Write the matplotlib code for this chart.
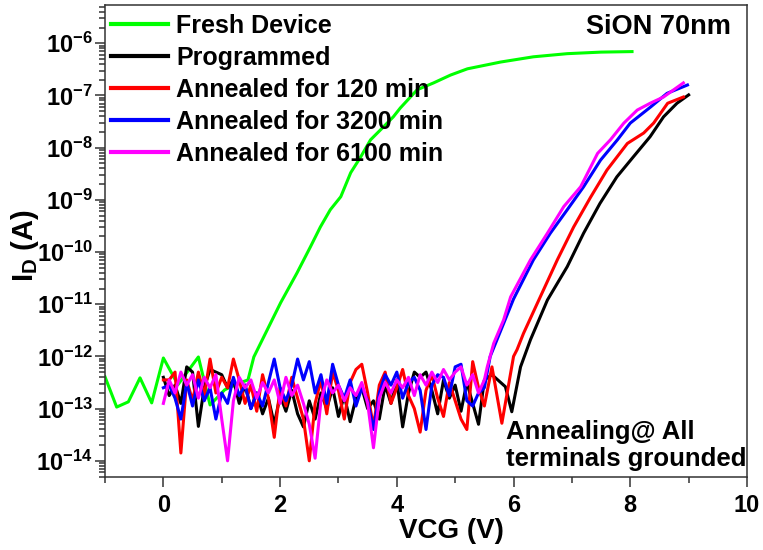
"""
Transfer curves I_D vs VCG for the SiON 70nm device: fresh, programmed, and annealed.
Values read off the published figure (log10 of current in A).
"""
import matplotlib
matplotlib.use("Agg")
import matplotlib.pyplot as plt
import numpy as np
from matplotlib.ticker import MultipleLocator, LogLocator, FixedLocator, FixedFormatter, NullFormatter

plt.rcParams["font.family"] = ["Liberation Sans", "DejaVu Sans"]
plt.rcParams["font.weight"] = "bold"
plt.rcParams["mathtext.fontset"] = "custom"
plt.rcParams["mathtext.rm"] = "Liberation Sans:bold"
plt.rcParams["mathtext.it"] = "Liberation Sans:bold"
plt.rcParams["mathtext.bf"] = "Liberation Sans:bold"

# fresh device
fresh_v = [-1.0, -0.8, -0.6, -0.4, -0.2, 0.0, 0.25, 0.6, 0.8, 1.05, 1.3, 1.45,
           1.55, 1.78, 2.01, 2.29, 2.52, 2.69, 2.86, 3.04, 3.21, 3.38, 3.55, 3.72,
           3.94, 4.06, 4.35, 4.63, 4.92, 5.21, 5.78, 6.34, 6.92, 7.5, 8.03]
fresh_log = [-12.39, -12.97, -12.87, -12.41, -12.89, -12.03, -12.54, -12.01, -12.93, -12.64, -12.51, -12.45,
             -12.01, -11.49, -10.97, -10.40, -9.90, -9.52, -9.19, -8.94, -8.48, -8.18, -7.85, -7.66,
             -7.41, -7.24, -6.89, -6.76, -6.61, -6.49, -6.36, -6.26, -6.20, -6.17, -6.16]

# common low-voltage sweep points (noise floor region)
sweep_v = [0.0, 0.1, 0.2, 0.3, 0.4, 0.5, 0.6, 0.7, 0.8, 0.9,
           1.0, 1.1, 1.2, 1.3, 1.4, 1.5, 1.6, 1.7, 1.8, 1.9,
           2.0, 2.1, 2.2, 2.3, 2.4, 2.5, 2.6, 2.7, 2.8, 2.9,
           3.0, 3.1, 3.2, 3.3, 3.4, 3.5, 3.6, 3.7, 3.8, 3.9,
           4.0, 4.1, 4.2, 4.3, 4.4, 4.5, 4.6, 4.7, 4.8, 4.9,
           5.0, 5.1, 5.2, 5.3, 5.4, 5.5]

prog_floor = [-12.40, -12.75, -12.55, -12.90, -12.20, -12.30, -13.34, -12.60, -12.25, -12.30,
              -12.35, -12.60, -12.45, -12.90, -12.55, -13.00, -12.70, -13.10, -12.80, -13.30,
              -12.75, -13.05, -12.65, -13.10, -13.35, -12.85, -13.20, -12.70, -13.00, -12.60,
              -13.15, -12.75, -13.25, -12.80, -12.60, -13.00, -12.85, -13.20, -12.55, -12.90,
              -12.45, -13.35, -12.70, -12.30, -12.40, -12.30, -12.65, -13.10, -12.45, -12.80,
              -12.55, -13.05, -12.50, -12.90, -13.30, -12.45]
prog_rise_v = [5.63, 5.86, 5.97, 6.12, 6.29, 6.58, 6.92, 7.2, 7.48, 7.77, 8.05, 8.34, 8.57, 8.8, 9.0]
prog_rise = [-12.35, -12.58, -13.06, -12.20, -11.68, -10.92, -10.28, -9.64, -9.07, -8.56, -8.18, -7.79, -7.41, -7.15, -6.99]

a120_floor = [-12.45, -12.45, -12.30, -13.85, -12.45, -12.85, -12.30, -12.75, -12.05, -12.70,
              -12.40, -12.60, -12.05, -12.45, -12.90, -12.55, -13.05, -12.35, -12.80, -13.55,
              -12.60, -12.95, -12.40, -12.80, -13.20, -14.00, -12.90, -12.45, -13.10, -12.30,
              -12.65, -13.20, -12.50, -12.25, -12.15, -12.70, -13.35, -12.55, -12.30, -12.90,
              -12.60, -12.25, -12.75, -13.00, -13.45, -12.65, -12.35, -12.80, -13.15, -12.50,
              -12.85, -13.20, -13.40, -12.10, -12.60, -12.95]
a120_rise_v = [5.63, 5.80, 6.0, 6.06, 6.17, 6.40, 6.75, 7.03, 7.32, 7.6, 7.95, 8.23, 8.4, 8.64, 8.91]
a120_rise = [-12.20, -13.28, -12.0, -11.87, -11.56, -11.0, -10.15, -9.52, -8.95, -8.43, -7.92, -7.72, -7.53, -7.15, -7.03]

a3200_floor = [-12.60, -12.55, -12.80, -13.20, -12.50, -12.95, -12.45, -12.85, -12.60, -13.20,
               -12.70, -12.90, -12.40, -12.75, -12.55, -13.00, -12.70, -12.95, -12.50, -12.05,
               -12.60, -12.85, -12.55, -12.05, -12.45, -12.10, -12.70, -12.35, -12.90, -12.15,
               -12.55, -12.80, -12.45, -12.95, -12.60, -12.85, -13.40, -12.70, -12.35, -12.55,
               -12.30, -12.80, -12.50, -12.40, -12.65, -13.40, -12.55, -12.35, -12.40, -12.75,
               -12.20, -12.15, -12.85, -12.95, -12.70, -12.60]
a3200_rise_v = [5.6, 5.8, 6.0, 6.34, 6.63, 6.92, 7.2, 7.49, 7.78, 8.0, 8.35, 8.63, 8.98]
a3200_rise = [-12.0, -11.45, -10.9, -10.15, -9.64, -9.19, -8.75, -8.24, -7.85, -7.53, -7.22, -6.96, -6.80]

a6100_floor = [-12.90, -12.45, -12.70, -12.30, -12.55, -12.35, -12.80, -12.40, -12.60, -12.35,
               -13.20, -14.00, -12.85, -12.40, -12.60, -12.45, -12.80, -12.50, -12.70, -12.45,
               -12.90, -12.40, -12.75, -12.55, -12.90, -13.30, -13.95, -12.85, -12.45, -12.70,
               -12.55, -12.85, -12.60, -12.75, -12.50, -12.90, -13.75, -12.80, -12.50, -12.70,
               -12.45, -12.60, -12.40, -12.75, -12.35, -12.55, -12.30, -12.50, -12.25, -12.45,
               -12.30, -12.20, -12.55, -12.35, -12.70, -12.45]
a6100_rise_v = [5.55, 5.66, 5.83, 5.95, 6.29, 6.58, 6.86, 7.15, 7.44, 7.66, 7.89, 8.12, 8.34, 8.57, 8.91]
a6100_rise = [-12.2, -11.75, -11.3, -10.86, -10.15, -9.64, -9.13, -8.75, -8.11, -7.85, -7.53, -7.28, -7.15, -7.03, -6.76]

labels = ["Fresh Device", "Programmed", "Annealed for 120 min",
          "Annealed for 3200 min", "Annealed for 6100 min"]
colors = ["#00ff00", "#000000", "#ff0000", "#0000ff", "#ff00ff"]
ytick_exp = [-14, -13, -12, -11, -10, -9, -8, -7, -6]
xticks = [0, 2, 4, 6, 8, 10]

curves = [
    (fresh_v, fresh_log),
    (sweep_v + prog_rise_v, prog_floor + prog_rise),
    (sweep_v + a120_rise_v, a120_floor + a120_rise),
    (sweep_v + a3200_rise_v, a3200_floor + a3200_rise),
    (sweep_v + a6100_rise_v, a6100_floor + a6100_rise),
]

fig = plt.figure(figsize=(7.63, 5.5), dpi=100)
ax = fig.add_axes([105 / 763, 1 - 477 / 550, 642 / 763, 472 / 550])

for (v, lg), lab, c in zip(curves, labels, colors):
    ax.plot(v, 10.0 ** np.array(lg), color=c, lw=2.2, label=lab)

ax.set_yscale("log")
ax.set_xlim(-1, 10)
ax.set_ylim(4.9e-15, 5.4e-6)

ax.xaxis.set_major_locator(FixedLocator(xticks))
ax.xaxis.set_minor_locator(MultipleLocator(1))
ax.yaxis.set_major_locator(FixedLocator([10.0 ** e for e in ytick_exp]))
ax.yaxis.set_major_formatter(FixedFormatter([r"$10^{%d}$" % e for e in ytick_exp]))
ax.yaxis.set_minor_locator(LogLocator(base=10, subs=np.arange(2, 10), numticks=30))
ax.yaxis.set_minor_formatter(NullFormatter())

ax.tick_params(which="both", direction="out", top=False, right=False, width=1.1, color="#333333")
ax.tick_params(which="major", length=7.5)
ax.tick_params(which="minor", length=4.2)
ax.tick_params(axis="x", labelsize=17, pad=5)
ax.tick_params(axis="y", labelsize=17, pad=1.5)
for s in ax.spines.values():
    s.set_color("#333333")
    s.set_linewidth(1.1)

ax.set_xlabel("VCG (V)", fontsize=20, fontweight="bold")
ax.xaxis.label.set_va("center")
ax.xaxis.set_label_coords(0.539, -0.115)
ax.set_ylabel(r"I$_{\mathrm{D}}$ (A)", fontsize=21, fontweight="bold")
ax.yaxis.label.set_va("center")
ax.yaxis.set_label_coords(-0.124, 0.49)

leg = ax.legend(loc="upper left", bbox_to_anchor=(0.0093, 0.981), frameon=False,
                fontsize=18, handlelength=2.3, handletextpad=0.3, labelspacing=0.32,
                borderpad=0, borderaxespad=0)
for h in leg.legend_handles:
    h.set_linewidth(3)

ax.text(0.975, 0.953, "SiON 70nm", transform=ax.transAxes, ha="right", va="center",
        fontsize=19.5, fontweight="bold")
ax.text(0.625, 0.012, "Annealing@ All\nterminals grounded", transform=ax.transAxes,
        ha="left", va="bottom", fontsize=18.5, fontweight="bold", linespacing=1.2)

fig.savefig("out.png", dpi=100)
plt.close(fig)
print("Saved: out.png")
